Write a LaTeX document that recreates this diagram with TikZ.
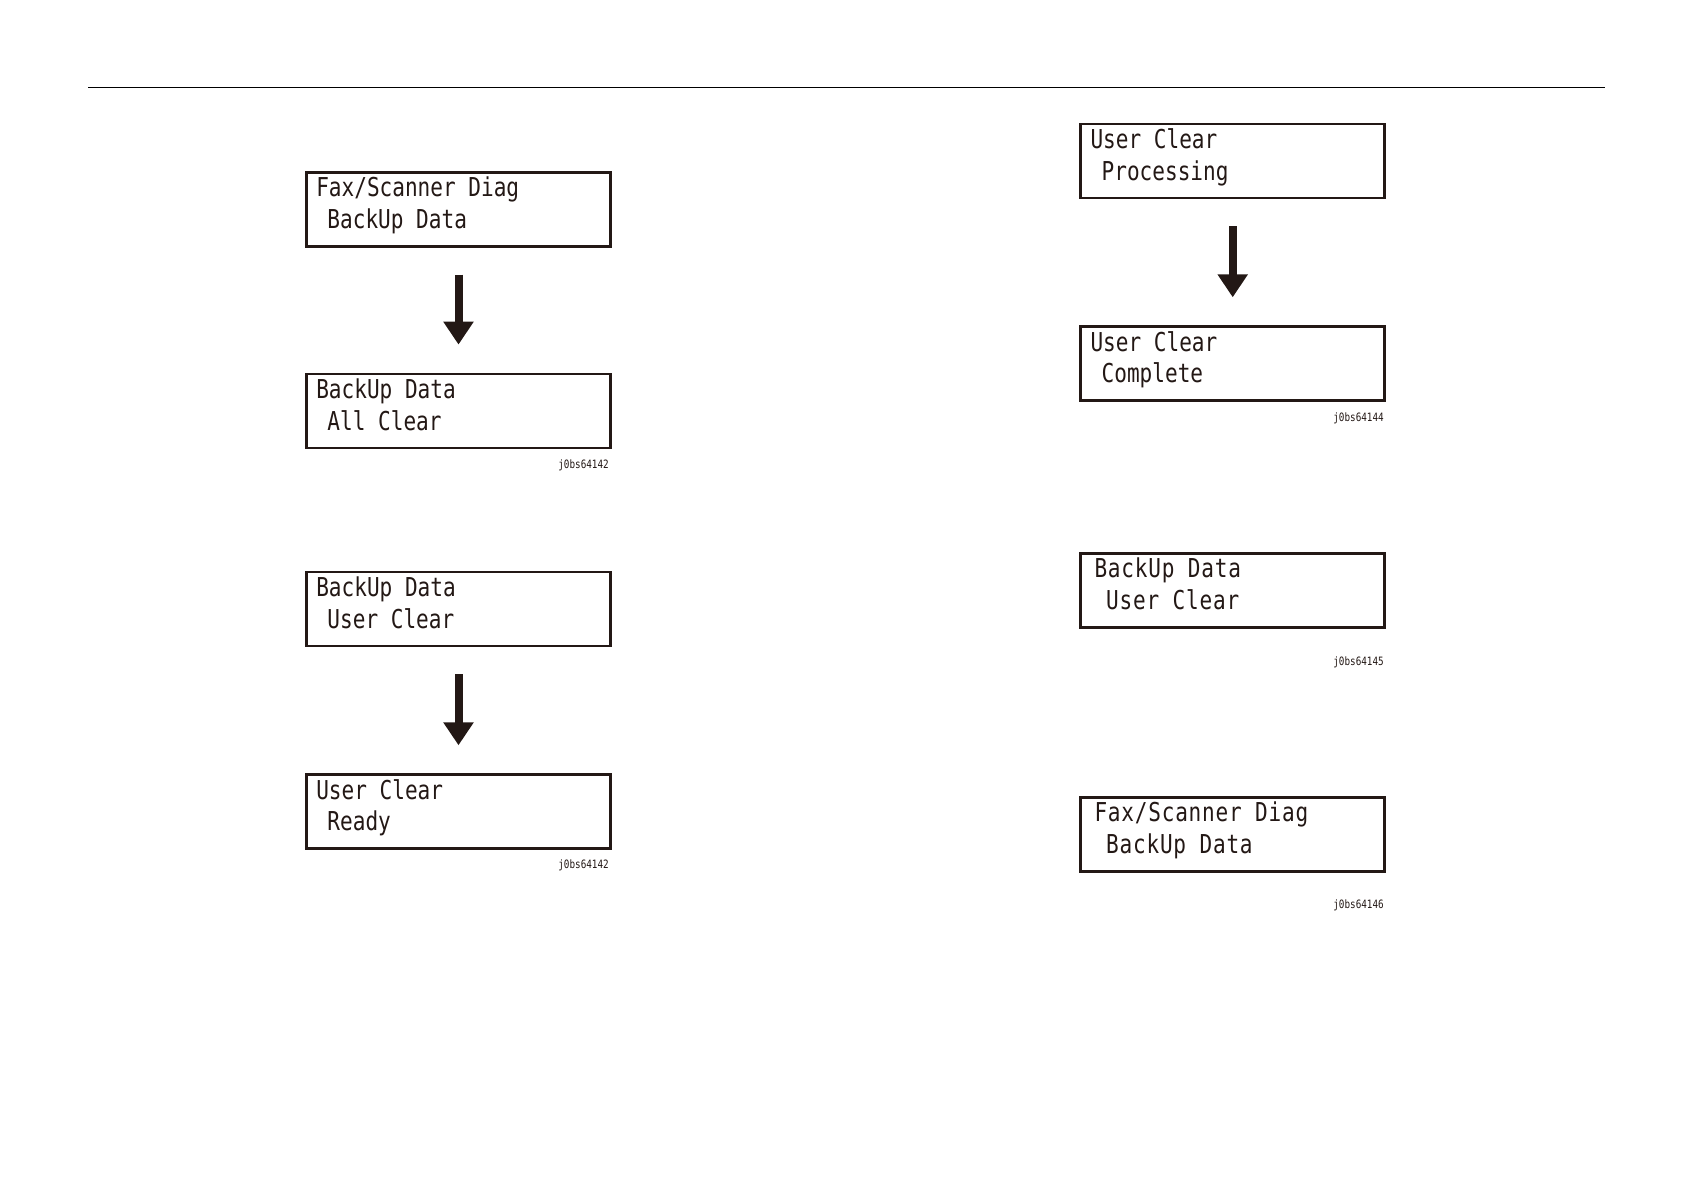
\documentclass[tikz,border=0pt]{standalone}
\usepackage{fontspec}
\newfontfamily\lcd[FakeStretch=0.81]{DejaVu Sans Mono}
\newfontfamily\lcdwide[FakeStretch=0.81,LetterSpace=3]{DejaVu Sans Mono}
\usetikzlibrary{calc,arrows.meta}
\definecolor{ink}{RGB}{35,24,21}
\tikzset{
  lcdbox/.style={draw=ink, line width=2.8pt, minimum width=304pt, minimum height=74pt, inner sep=0pt, fill=white},
  lcdtext/.style={anchor=base west, inner sep=0pt, font=\lcd\fontsize{26}{26}\selectfont, text=ink},
  lcdtextw/.style={anchor=base west, inner sep=0pt, font=\lcdwide\fontsize{26}{26}\selectfont, text=ink},
  reflabel/.style={anchor=base east, inner sep=0pt, font=\lcd\fontsize{11.5}{11.5}\selectfont, text=ink},
  flowarrow/.style={draw=ink, line width=8pt, -{Triangle[width=29pt,length=23pt]}, shorten <=27pt, shorten >=28pt}
}
\begin{document}
\begin{tikzpicture}[x=1pt,y=-1pt]
\useasboundingbox (0,0) rectangle (1684,1190);
% top rule
\coordinate (ruleL) at (88,87.3);
\coordinate (ruleR) at (1605,87.3);
\draw[line width=1.5pt, black] (ruleL) -- (ruleR);

% boxes
\node[lcdbox] (b1) at (458.5,209.2) {};
\node[lcdbox] (b2) at (458.5,411) {};
\node[lcdbox] (b5) at (458.5,609) {};
\node[lcdbox] (b6) at (458.5,811.7) {};
\node[lcdbox] (b3) at (1232.7,161) {};
\node[lcdbox] (b4) at (1232.7,363.7) {};
\node[lcdbox] (b7) at (1232.7,590.8) {};
\node[lcdbox] (b8) at (1232.7,834.7) {};

% texts
\node[lcdtext] (t1a) at ($(b1.north west)+(11,26)$) {Fax/Scanner Diag};
\node[lcdtext] (t1b) at ($(b1.north west)+(9.5,57.5)$) {\hphantom{B}BackUp Data};
\node[lcdtext] (t2a) at ($(b2.north west)+(11,26)$) {BackUp Data};
\node[lcdtext] (t2b) at ($(b2.north west)+(9.5,57.5)$) {\hphantom{B}All Clear};
\node[lcdtext] (t5a) at ($(b5.north west)+(11,26)$) {BackUp Data};
\node[lcdtext] (t5b) at ($(b5.north west)+(9.5,57.5)$) {\hphantom{B}User Clear};
\node[lcdtext] (t6a) at ($(b6.north west)+(11,26)$) {User Clear};
\node[lcdtext] (t6b) at ($(b6.north west)+(9.5,57.5)$) {\hphantom{B}Ready};
\node[lcdtext] (t3a) at ($(b3.north west)+(11,26)$) {User Clear};
\node[lcdtext] (t3b) at ($(b3.north west)+(9.5,57.5)$) {\hphantom{B}Processing};
\node[lcdtext] (t4a) at ($(b4.north west)+(11,26)$) {User Clear};
\node[lcdtext] (t4b) at ($(b4.north west)+(9.5,57.5)$) {\hphantom{B}Complete};
\node[lcdtextw] (t7a) at ($(b7.north west)+(15,25.5)$) {BackUp Data};
\node[lcdtextw] (t7b) at ($(b7.north west)+(14,57.5)$) {\hphantom{B}User Clear};
\node[lcdtextw] (t8a) at ($(b8.north west)+(15,25.5)$) {Fax/Scanner Diag};
\node[lcdtextw] (t8b) at ($(b8.north west)+(14,57.5)$) {\hphantom{B}BackUp Data};

% arrows
\draw[flowarrow] (b1.south) -- (b2.north);
\draw[flowarrow] (b5.south) -- (b6.north);
\draw[flowarrow] (b3.south) -- (b4.north);

% reference labels
\node[reflabel] (l1) at (609,468.3) {j0bs64142};
\node[reflabel] (l2) at (609,868.3) {j0bs64142};
\node[reflabel] (l3) at (1384,421.7) {j0bs64144};
\node[reflabel] (l4) at (1384,665) {j0bs64145};
\node[reflabel] (l5) at (1384,908.3) {j0bs64146};
\end{tikzpicture}
\end{document}
